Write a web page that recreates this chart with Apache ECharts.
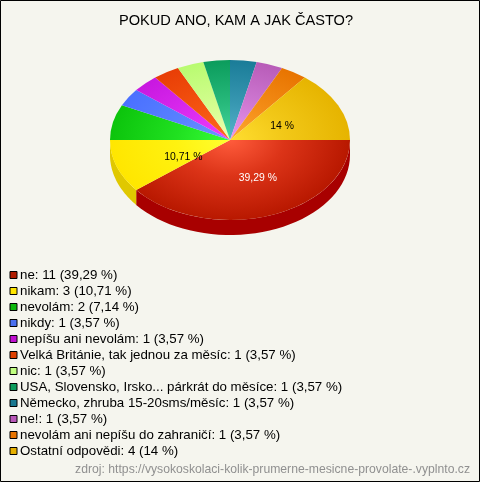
<!DOCTYPE html>
<html><head><meta charset="utf-8">
<style>html,body{margin:0;padding:0;background:#f5f5ee}#c{width:480px;height:482px}</style>
<script src="https://cdn.jsdelivr.net/npm/echarts@6/dist/echarts.min.js"></script>
</head><body><div id="c"></div>
<script>
const categories = ["ne","nikam","nevolám","nikdy","nepíšu ani nevolám","Velká Británie, tak jednou za měsíc","nic","USA, Slovensko, Irsko... párkrát do měsíce","Německo, zhruba 15-20sms/měsíc","ne!","nevolám ani nepíšu do zahraničí","Ostatní odpovědi"];
const counts = [11,3,2,1,1,1,1,1,1,1,1,4];
const percentTexts = ["39,29","10,71","7,14","3,57","3,57","3,57","3,57","3,57","3,57","3,57","3,57","14"];
const rimColors = ["#b81800","#ffe600","#0cc40c","#4a70ff","#c818e0","#e83e06","#b8fb70","#0b9c5c","#1a7c98","#b85cb8","#e87400","#e6b400"];
const midColors = ["#dc3418","#fff210","#20e020","#5a82ff","#dc2cf0","#f45410","#d4fd90","#28ba7c","#3898b2","#d07ad4","#f48e18","#f2c818"];
const hubColors = ["#ff5c3c","#ffff30","#38ff38","#6e96ff","#f040ff","#ff6a20","#f0ffb0","#48d8a0","#58b4cc","#ec98f0","#ffaa30","#ffde30"];
const wallColors = ["#a80000","#e0c800","#0a9a0a","#3a58c8","#a010b0","#b83004","#90c858","#087a48","#146078","#904890","#b85c00","#b89000"];
const labelColors = ["#ffffff","#000000",null,null,null,null,null,null,null,null,null,"#000000"];
const swatchColors = ["#b01c00","#ffe600","#0cb80c","#4a70f0","#c010d0","#e04000","#c0ff80","#0c9c5c","#1a7890","#b858b8","#e87400","#e6b000"];
const labelNudges = {0:[8,0],1:[10,4],11:[-2,3.5]};

const CX=230, CY=140, RX=120, RY=80, DEPTH=15;
const total = counts.reduce((a,b)=>a+b,0);
const starts=[]; let acc=0;
counts.forEach(v=>{starts.push(acc/total*Math.PI*2); acc+=v;});

function renderSlice(i){
  return function(params,api){
    const a0=starts[i], a1=a0+counts[i]/total*Math.PI*2;
    const children=[];
    const k=RY/RX;
    const w0=Math.max(a0,0), w1=Math.min(a1,Math.PI);
    if(w1>w0){
      const top=[],bot=[];
      const n=40;
      for(let j=0;j<=n;j++){
        const t=w0+(w1-w0)*j/n;
        top.push([CX+RX*Math.cos(t),CY+RY*Math.sin(t)]);
        bot.unshift([CX+RX*Math.cos(t),CY+RY*Math.sin(t)+DEPTH]);
      }
      children.push({type:'polygon',z2:1,shape:{points:top.concat(bot)},style:{fill:wallColors[i]}});
    }
    children.push({
      type:'group',x:CX,y:CY,scaleY:k,
      children:[{
        type:'sector',z2:5,
        shape:{cx:0,cy:0,r0:0,r:RX,startAngle:a0,endAngle:a1,clockwise:true},
        style:{fill:{type:'radial',x:0,y:0,r:RX,global:true,
          colorStops:[{offset:0,color:hubColors[i]},{offset:0.45,color:midColors[i]},{offset:1,color:rimColors[i]}]}}
      }]
    });
    if(labelColors[i]){
      const m=(a0+a1)/2, f=0.5, nudge=labelNudges[i]||[0,0];
      children.push({type:'text',z2:10,
        style:{x:CX+RX*f*Math.cos(m)+nudge[0],y:CY+RY*f*Math.sin(m)+nudge[1],text:percentTexts[i]+' %',
          fill:labelColors[i],font:'10.4px "Liberation Sans"',align:'center',verticalAlign:'middle'}});
    }
    return {type:'group',children};
  };
}
const names=categories.map((c,i)=>`${c}: ${counts[i]} (${percentTexts[i]} %)`);
const chart=echarts.init(document.getElementById('c'),null,{renderer:'canvas'});
chart.setOption({
  animation:false,
  backgroundColor:'#f5f5ee',
  title:{text:'POKUD ANO, KAM A JAK ČASTO?',left:231,textAlign:'center',top:8,
    textStyle:{fontFamily:'"Liberation Sans"',fontSize:14.6,fontWeight:'normal',color:'#000'}},
  legend:{orient:'vertical',left:9.5,top:268.5,itemWidth:7,itemHeight:7,itemGap:3,selectedMode:false,
    padding:0,icon:'rect',
    textStyle:{fontFamily:'"Liberation Sans"',fontSize:13.3,color:'#000',padding:[0,0,0,-2]},
    data:names.map((n,i)=>({name:n,itemStyle:{color:swatchColors[i],borderColor:'#000',borderWidth:1}}))},
  graphic:[
    {type:'rect',z:100,shape:{x:0.5,y:0.5,width:479,height:481},style:{fill:'none',stroke:'#000',lineWidth:1}},
    {type:'text',z:100,style:{x:470,y:469.5,text:'zdroj: https://vysokoskolaci-kolik-prumerne-mesicne-provolate-.vyplnto.cz',
      fill:'#909090',font:'12.2px "Liberation Sans"',align:'right',verticalAlign:'middle'}}
  ],
  series:names.map((n,i)=>({
    type:'custom',name:n,coordinateSystem:'none',silent:true,
    itemStyle:{color:swatchColors[i]},
    data:[counts[i]],
    renderItem:renderSlice(i)
  }))
});
</script></body></html>
